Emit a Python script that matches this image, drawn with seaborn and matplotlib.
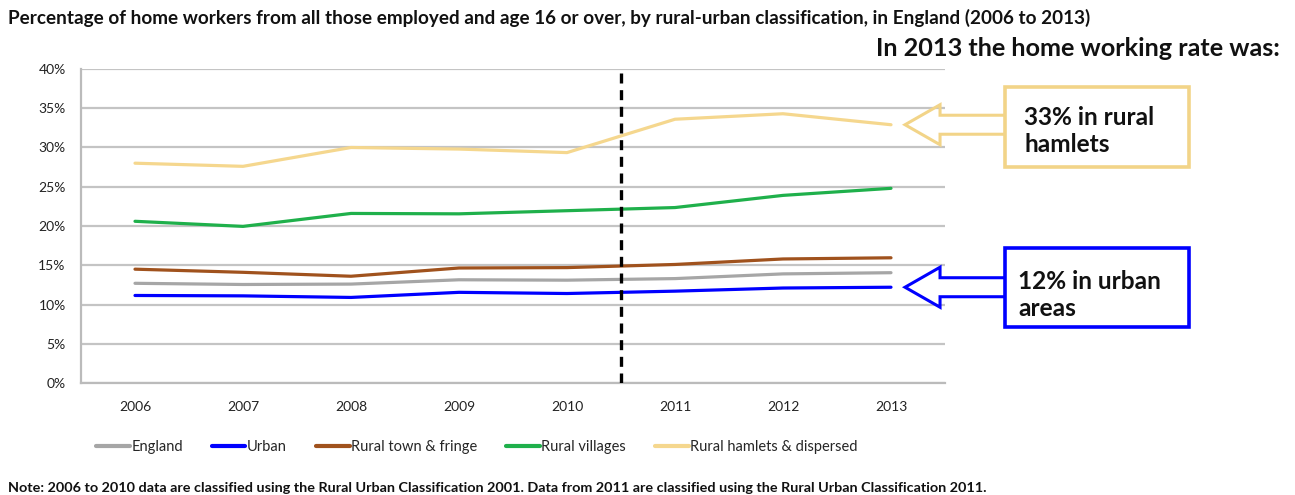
import numpy as np
import pandas as pd
import matplotlib
matplotlib.use("Agg")
import matplotlib.pyplot as plt
from matplotlib.patches import Rectangle, Polygon
import seaborn as sns

# Home working rate (%) by rural-urban classification
years = [2006, 2007, 2008, 2009, 2010, 2011, 2012, 2013]
england = [12.7, 12.55, 12.6, 13.15, 13.1, 13.3, 13.9, 14.05]
urban = [11.15, 11.1, 10.9, 11.55, 11.4, 11.7, 12.1, 12.2]
rural_town = [14.5, 14.1, 13.6, 14.65, 14.7, 15.1, 15.8, 15.95]
rural_villages = [20.6, 19.95, 21.6, 21.55, 21.95, 22.35, 23.9, 24.8]
rural_hamlets = [28.0, 27.6, 30.0, 29.8, 29.35, 33.6, 34.3, 32.9]

series_names = ["England", "Urban", "Rural town & fringe", "Rural villages",
                "Rural hamlets & dispersed"]
series_colors = ["#A6A6A6", "#0000FF", "#A0521D", "#1FB04B", "#F5D78E"]
y_ticks = [0, 5, 10, 15, 20, 25, 30, 35, 40]

df = pd.DataFrame({
    "Year": years * 5,
    "Rate": england + urban + rural_town + rural_villages + rural_hamlets,
    "Area": sum([[n] * len(years) for n in series_names], []),
})

sns.set_theme(style="white")
plt.rcParams["font.family"] = ["Lato", "DejaVu Sans"]

W, H = 1295, 495
fig = plt.figure(figsize=(W / 100, H / 100), dpi=100)
ax = fig.add_axes([81 / W, 1 - 383 / H, (945 - 81) / W, (383 - 69) / H])

sns.lineplot(data=df, x="Year", y="Rate", hue="Area", hue_order=series_names,
             palette=series_colors, linewidth=2.3, ax=ax, legend=True)

ax.set_xlim(years[0] - 0.5, years[-1] + 0.5)
ax.set_ylim(0, 40)
ax.set_yticks(y_ticks)
ax.set_yticklabels([f"{v}%" for v in y_ticks], fontsize=10, color="#222222")
ax.set_xticks(years)
ax.set_xticklabels([str(y) for y in years], fontsize=10, color="#222222")
ax.set_xticks(np.arange(years[0] - 0.5, years[-1] + 1, 1), minor=True)
ax.tick_params(axis="x", which="major", length=0, pad=13)
ax.tick_params(axis="x", which="minor", length=6, width=1.5, color="#BBBBBB")
ax.tick_params(axis="y", which="major", length=5, width=1.5, color="#BBBBBB", pad=6)
ax.set_xlabel("")
ax.set_ylabel("")
ax.yaxis.grid(True, color="#C4C4C4", linewidth=1.6)
ax.xaxis.grid(False)
for side in ["top", "right"]:
    ax.spines[side].set_visible(False)
for side in ["left", "bottom"]:
    ax.spines[side].set_color("#BBBBBB")
    ax.spines[side].set_linewidth(1.6)
ax.set_axisbelow(True)

# Break between classification 2001 and 2011
ax.axvline(2010.5, color="black", linestyle=(0, (3, 2)), linewidth=2.4, zorder=5)

# Legend below the plot
handles, labels = ax.get_legend_handles_labels()
ax.legend_.remove()
for h in handles:
    h.set_linewidth(3.0)
fig.legend(handles, labels, loc="center", bbox_to_anchor=(477 / W, 1 - 447 / H),
           ncol=5, frameon=False, fontsize=10.5, handlelength=2.3, handletextpad=0.1,
           columnspacing=2.0)

# Titles and note
fig.text(8 / W, 1 - 18 / H,
         "Percentage of home workers from all those employed and age 16 or over, "
         "by rural-urban classification, in England (2006 to 2013)",
         fontsize=13.6, fontweight="bold", ha="left", va="center", color="#111111")
fig.text(1280 / W, 1 - 48 / H, "In 2013 the home working rate was:",
         fontsize=18.2, fontweight="bold", ha="right", va="center", color="#111111")
fig.text(8 / W, 1 - 488 / H,
         "Note: 2006 to 2010 data are classified using the Rural Urban Classification 2001. "
         "Data from 2011 are classified using the Rural Urban Classification 2011.",
         fontsize=10.4, fontweight="bold", ha="left", va="center", color="#111111")


def callout(value, color, text, box_top, box_bottom, text_x, text_y):
    """Block arrow pointing at the 2013 value, joined to a text box."""
    fig.canvas.draw()
    tip_px = ax.transData.transform((2013.13, value))
    tx, ty = tip_px[0], tip_px[1]
    box_left, box_right = 1005, 1189
    pts = [(box_left, ty + 9.5), (tx + 35, ty + 9.5), (tx + 35, ty + 20),
           (tx, ty), (tx + 35, ty - 20), (tx + 35, ty - 9.5), (box_left, ty - 9.5)]
    pts_fig = [(x / W, y / H) for x, y in pts]
    fig.add_artist(Polygon(pts_fig, closed=False, fill=False, edgecolor=color,
                           linewidth=2.2, transform=fig.transFigure, joinstyle="miter"))
    fig.add_artist(Rectangle((box_left / W, 1 - box_bottom / H),
                             (box_right - box_left) / W, (box_bottom - box_top) / H,
                             fill=False, edgecolor=color, linewidth=2.6,
                             transform=fig.transFigure))
    fig.text(text_x / W, 1 - text_y / H, text, fontsize=17.6, fontweight="bold",
             ha="left", va="center", color="#111111", linespacing=1.25)


callout(rural_hamlets[-1], "#F2D488", "33% in rural\nhamlets", 87, 167, 1024, 131)
callout(urban[-1], "#0000FF", "12% in urban\nareas", 248, 327, 1018, 295)

fig.savefig("out.png", dpi=100, facecolor="white")
